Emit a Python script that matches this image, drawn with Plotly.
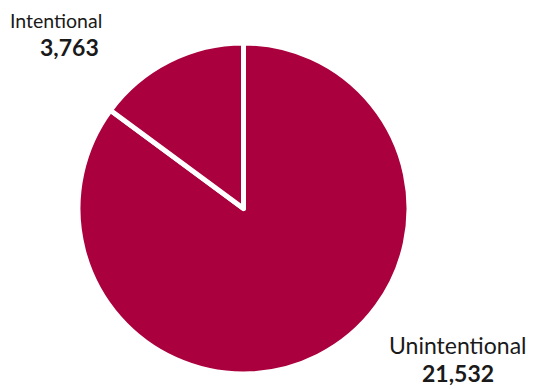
import plotly.graph_objects as go

labels = ["Unintentional", "Intentional"]
values = [21532, 3763]
colors = ["#AA003D", "#AA003D"]

W, H = 534, 389
# pie bounds in pixels
left, right, top, bottom = 77, 410, 43, 374

fig = go.Figure(go.Pie(
    labels=labels,
    values=values,
    sort=False,
    direction="clockwise",
    rotation=0,
    marker=dict(colors=colors, line=dict(color="white", width=5)),
    textinfo="none",
    hoverinfo="label+value",
    showlegend=False,
    domain=dict(x=[left / W, right / W], y=[1 - bottom / H, 1 - top / H]),
))

font = "Lato, sans-serif"

# (x px, y px, text, weight, size)
annos = [
    (56, 21, labels[1], 400, 19.5),
    (69, 47, f"{values[1]:,}", 700, 23),
    (458, 345, labels[0], 400, 23),
    (458, 373, f"{values[0]:,}", 700, 23),
]
for x, y, t, w, s in annos:
    fig.add_annotation(
        x=x / W, y=1 - y / H, xref="paper", yref="paper",
        text=t, showarrow=False, xanchor="center", yanchor="middle",
        font=dict(family=font, size=s, color="#1a1a1a", weight=w),
    )

fig.update_layout(
    width=W, height=H,
    margin=dict(l=0, r=0, t=0, b=0),
    paper_bgcolor="white", plot_bgcolor="white",
)

fig.write_html("out.html")
